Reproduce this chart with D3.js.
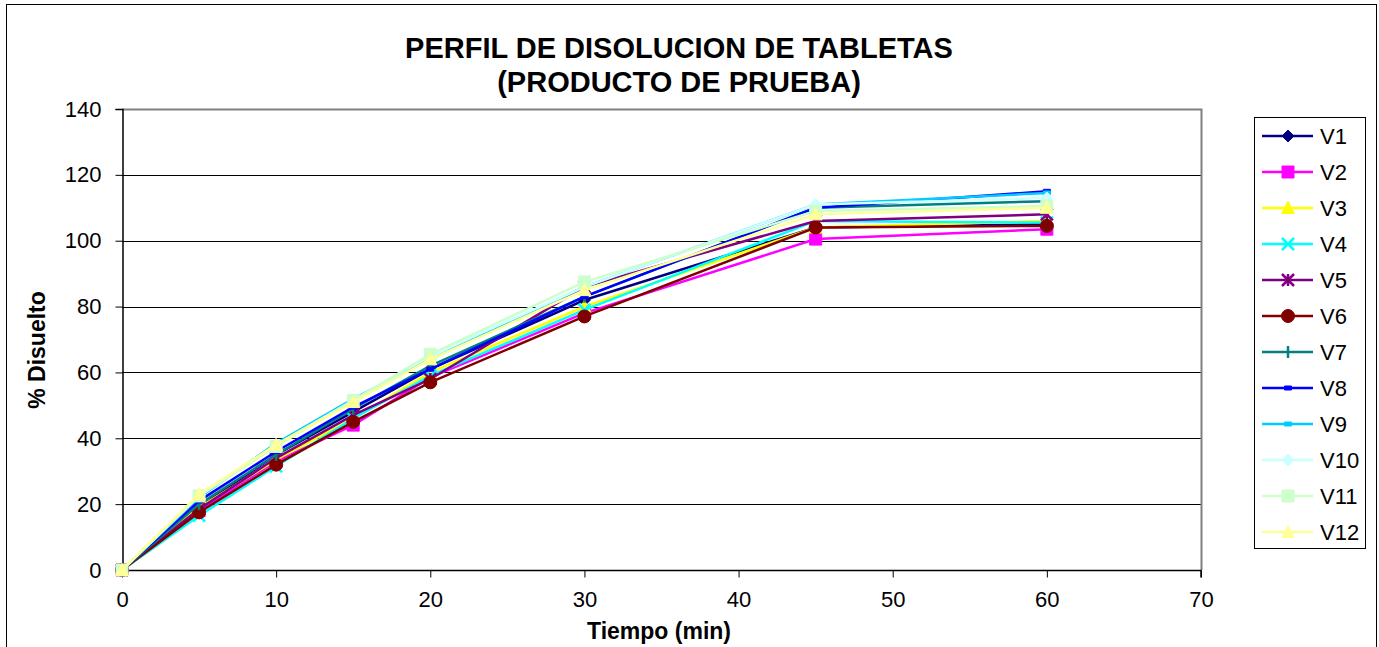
<!DOCTYPE html>
<html><head><meta charset="utf-8">
<script src="https://cdn.jsdelivr.net/npm/d3@7"></script>
<style>body{margin:0;background:#fff}svg{display:block;font-family:"Liberation Sans",Arial,sans-serif}</style>
</head><body><svg id="c" width="1379" height="647"></svg>
<script>
const times = [0, 5, 10, 15, 20, 30, 45, 60];
const seriesNames = ["V1","V2","V3","V4","V5","V6","V7","V8","V9","V10","V11","V12"];
const V1  = [0, 19, 35, 48, 61, 82, 104, 105];
const V2  = [0, 18, 33, 44, 58.5, 78, 100.5, 103.5];
const V3  = [0, 19, 33.5, 46, 60, 80, 104, 106];
const V4  = [0, 16.5, 31.5, 46, 59, 79, 106, 105.5];
const V5  = [0, 18.5, 34, 47, 58, 86, 106, 108];
const V6  = [0, 17.5, 32, 45, 57, 77, 104, 104.5];
const V7  = [0, 20, 35, 49, 62, 83, 110, 112];
const V8  = [0, 21, 36, 49.5, 61, 83, 110, 115];
const V9  = [0, 22, 38.5, 52, 64, 86, 111, 114.5];
const V10 = [0, 22.5, 38, 51.5, 65, 86, 111, 113];
const V11 = [0, 22.5, 37.5, 51.5, 65.5, 87.5, 109, 110.5];
const V12 = [0, 23, 38, 51, 64, 85, 108, 110];
const seriesValues = [V1,V2,V3,V4,V5,V6,V7,V8,V9,V10,V11,V12];
const xTicks = [0,10,20,30,40,50,60,70];
const yTicks = [0,20,40,60,80,100,120,140];
const titleLines = ["PERFIL DE DISOLUCION DE TABLETAS","(PRODUCTO DE PRUEBA)"];
const xLabel = "Tiempo (min)";
const yLabel = "% Disuelto";

const colors = ["#000080","#FF00FF","#FFFF00","#00FFFF","#800080","#800000","#008080","#0000FF","#00CCFF","#CCFFFF","#CCFFCC","#FFFF99"];
const markers = ["diamond","square","triangle","x","star","circle","plus","dash","dash","diamond","square","triangle"];

const svg = d3.select("#c");
svg.append("rect").attr("x",6.5).attr("y",4.5).attr("width",1370).attr("height",660)
  .attr("fill","#fff").attr("stroke","#000").attr("stroke-width",1);

const L=122, R=1201, T=109, B=570;
const x = d3.scaleLinear().domain([0,70]).range([L,R]);
const y = d3.scaleLinear().domain([0,140]).range([B,T]);

// grid
svg.append("g").selectAll("line").data(yTicks.filter(d=>d>0&&d<140)).join("line")
  .attr("x1",L).attr("x2",R).attr("y1",d=>Math.round(y(d))+0.5).attr("y2",d=>Math.round(y(d))+0.5)
  .attr("stroke","#000").attr("stroke-width",1);
// plot border top/right gray
svg.append("path").attr("d",`M${L},${T+0.5}H${R+0.5}V${B}`).attr("fill","none").attr("stroke","#808080").attr("stroke-width",2);

// axes
const yAxis = d3.axisLeft(y).tickValues(yTicks).tickSize(7).tickPadding(14);
const gy = svg.append("g").attr("transform",`translate(${L+0.5},0)`).call(yAxis);
const xAxis = d3.axisBottom(x).tickValues(xTicks).tickSize(7).tickPadding(14);
const gx = svg.append("g").attr("transform",`translate(0,${B+0.5})`).call(xAxis);
[gx,gy].forEach(g=>{
  g.select(".domain").attr("stroke","#000").attr("stroke-width",1.5);
  g.selectAll(".tick line").attr("stroke","#000");
  g.selectAll(".tick text").attr("font-size",22).attr("fill","#000").attr("font-family","Liberation Sans, Arial, sans-serif");
});
gx.select(".domain").attr("d",`M${L},0H${R}V7`);

function markerPath(type, size){
  const s=size/2;
  switch(type){
    case "diamond": return `M0,${-s}L${s},0L0,${s}L${-s},0Z`;
    case "square": return `M${-s},${-s}H${s}V${s}H${-s}Z`;
    case "triangle": return `M0,${-s-1}L${s+1},${s}L${-s-1},${s}Z`;
    case "circle": return d3.symbol(d3.symbolCircle, Math.PI*s*s)();
    case "x": return `M${-s},${-s}L${s},${s}M${s},${-s}L${-s},${s}`;
    case "star": return `M${-s},${-s}L${s},${s}M${s},${-s}L${-s},${s}M0,${-s}V${s}`;
    case "plus": return `M0,${-s}V${s}`;
    case "dash": return `M${-s*0.7},-2H${s*0.7}V2H${-s*0.7}Z`;
  }
}
const sizes = {diamond:12,square:12,triangle:11,circle:13,x:12,star:12,plus:12,dash:10};
function drawMarker(g, type, color, cx, cy){
  const p = g.append("path").attr("d",markerPath(type,sizes[type])).attr("transform",`translate(${cx},${cy})`);
  if(type==="x"||type==="star"||type==="plus") p.attr("fill","none").attr("stroke",color).attr("stroke-width",2.5);
  else p.attr("fill",color).attr("stroke",color).attr("stroke-width",1);
}

const line = d3.line().x(d=>x(d[0])).y(d=>y(d[1]));
const plot = svg.append("g");
seriesValues.forEach((vals,i)=>{
  const pts = times.map((t,j)=>[t,vals[j]]);
  const g = plot.append("g");
  g.append("path").attr("d",line(pts)).attr("fill","none").attr("stroke",colors[i]).attr("stroke-width",2.5);
  pts.forEach(p=>drawMarker(g,markers[i],colors[i],x(p[0]),y(p[1])));
});

// title
const title = svg.append("text").attr("text-anchor","middle").attr("font-weight","bold").attr("font-size",29).attr("fill","#000");
titleLines.forEach((t,i)=>title.append("tspan").attr("x",679).attr("y",58+i*34).text(t));

svg.append("text").attr("x",659).attr("y",639).attr("text-anchor","middle").attr("font-weight","bold").attr("font-size",23).text(xLabel);
svg.append("text").attr("transform","translate(45,350) rotate(-90)").attr("text-anchor","middle").attr("font-weight","bold").attr("font-size",23).text(yLabel);

// legend
const lg = svg.append("g");
lg.append("rect").attr("x",1254.5).attr("y",117.5).attr("width",111).attr("height",431).attr("fill","#fff").attr("stroke","#000").attr("stroke-width",1);
seriesNames.forEach((n,i)=>{
  const cy = 136 + i*36;
  lg.append("line").attr("x1",1262).attr("x2",1313).attr("y1",cy).attr("y2",cy).attr("stroke",colors[i]).attr("stroke-width",2.5);
  drawMarker(lg,markers[i],colors[i],1288,cy);
  lg.append("text").attr("x",1320).attr("y",cy+8).attr("font-size",22).attr("fill","#000").text(n);
});
</script></body></html>
